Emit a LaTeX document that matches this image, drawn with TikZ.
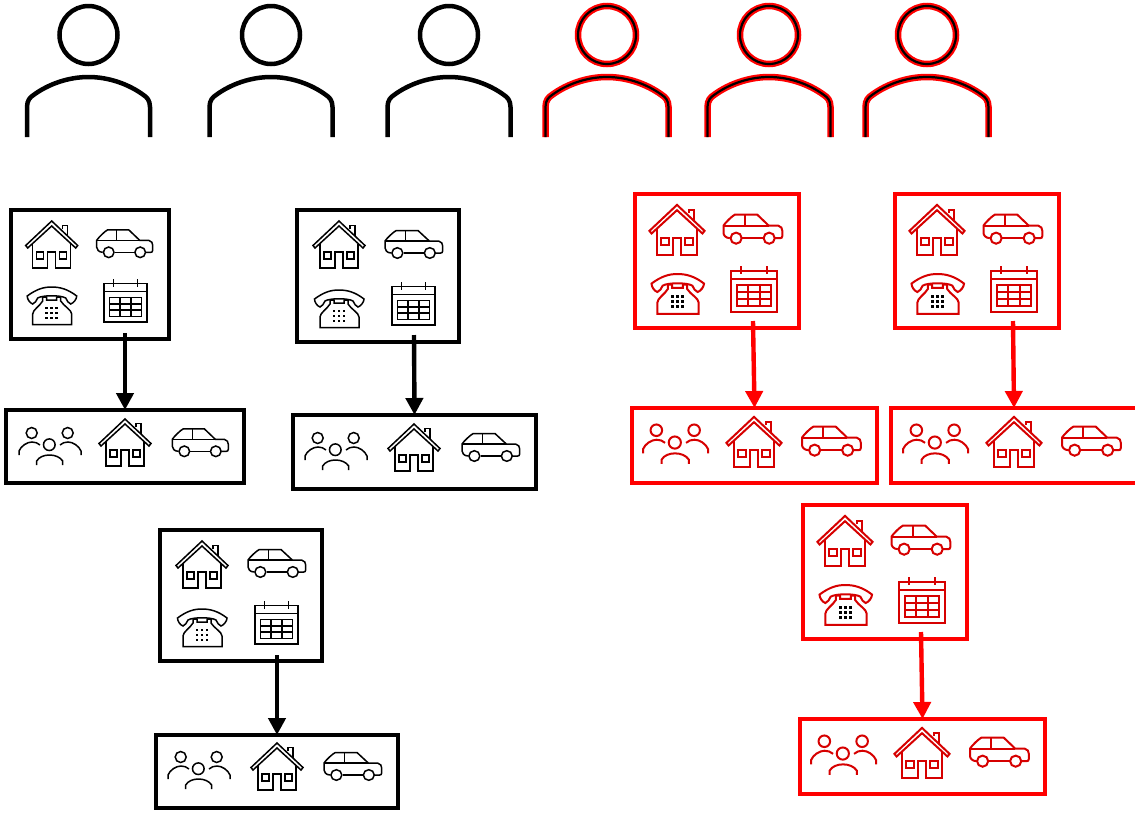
\documentclass[tikz,border=0pt]{standalone}
\usetikzlibrary{arrows.meta}
\definecolor{iconred}{RGB}{214,0,0}
\tikzset{
  iconk/.style={draw=black,line width=1.5pt,line join=miter},
  iconr/.style={draw=iconred,line width=2pt,line join=miter},
  framek/.style={draw=black,line width=4.4pt,inner sep=0pt,outer sep=0pt,rectangle},
  framer/.style={draw=red,line width=4.4pt,inner sep=0pt,outer sep=0pt,rectangle},
  linkk/.style={draw=black,line width=4.4pt,-{Triangle[length=17pt,width=17pt]}},
  linkr/.style={draw=red,line width=4.4pt,-{Triangle[length=17pt,width=17pt]}},
  pics/house/.style={code={
    \path[pic actions] (-26,22.5) -- (0,-2) -- (26,22.5) -- (24,25) -- (0,3) -- (-24,25) -- cycle;
    \path[pic actions] (-19,21) -- (-19,45) -- (-4,45) -- (-4,29) -- (4,29) -- (4,45) -- (19,45) -- (19,21);
    \path[pic actions] (11,6) -- (11,2.5) -- (16,2.5) -- (16,12.5);
    \path[pic actions] (-15,29) rectangle (-8,36);
    \path[pic actions] (8,29) rectangle (15,36);
  }},
  pics/car/.style={code={
    \path[pic actions] (6,23) .. controls (2,23) and (0,20) .. (0,18) -- (0,11) .. controls (2,8) and (8,2) .. (11,0.5) -- (32,0.5) -- (43,11) -- (52,11) .. controls (55,11.5) and (56,14) .. (56,16) -- (56,21) .. controls (56,22.5) and (55,23) .. (54,23) -- (49,23);
    \path[pic actions] (18,23) -- (38,23);
    \path[pic actions] (0,11) -- (43,11);
    \path[pic actions] (20,0.5) -- (20,11);
    \path[pic actions] (12,23) circle[radius=5.3];
    \path[pic actions] (43.5,23) circle[radius=5.3];
  }},
  pics/phone/.style={code={
    \path[pic actions] (0.5,9) .. controls (10,2) and (17,0) .. (25,0) .. controls (33,0) and (41,2) .. (50,9) .. controls (50,12) and (47,16) .. (44,17) .. controls (42,16) and (40,14) .. (39,11) .. controls (34,8) and (16,8) .. (11,11) .. controls (10,14) and (8,16) .. (6,17) .. controls (3,16) and (0.5,12) .. (0.5,9) -- cycle;
    \path[pic actions] (6,37.5) -- (6,27) .. controls (6,23) and (13,19) .. (16,14) -- (16,10) -- (20,10) -- (20,13) -- (30,13) -- (30,10) -- (34,10) -- (34,14) .. controls (37,19) and (45,23) .. (45,27) -- (45,37.5) -- cycle;
    \foreach \cx in {20,25,30}{\foreach \cy in {21,26,31}{
      \fill[pic actions,draw=none] (\cx-1.3,\cy-1.3) rectangle (\cx+1.3,\cy+1.3);
    }}
  }},
  pics/calendar/.style={code={
    \path[pic actions] (0,4.3) rectangle (43,43);
    \path[pic actions] (0,12.7) -- (43,12.7);
    \path[pic actions] (9.3,0) -- (9.3,8);
    \path[pic actions] (33.7,0) -- (33.7,8);
    \path[pic actions] (5.3,18.3) rectangle (37.7,37.7);
    \path[pic actions] (16,18.3) -- (16,37.7);
    \path[pic actions] (27,18.3) -- (27,37.7);
    \path[pic actions] (5.3,24.8) -- (37.7,24.8);
    \path[pic actions] (5.3,31.2) -- (37.7,31.2);
  }},
  pics/people/.style={code={
    \path[pic actions] (12.7,5) circle[radius=5.5];
    \path[pic actions] (48.7,5) circle[radius=5.5];
    \path[pic actions] (30.3,16.7) circle[radius=5.8];
    \path[pic actions] (0,27) -- (0,23) .. controls (2,18) and (8,14) .. (13,14) .. controls (16,14) and (19,15) .. (21,17);
    \path[pic actions] (62,27) -- (62,23) .. controls (60,18) and (54,14) .. (49,14) .. controls (46,14) and (43,15) .. (41,17);
    \path[pic actions] (17.7,37) -- (17.7,33) .. controls (20,29) and (25,27) .. (30.5,27) .. controls (36,27) and (41,29) .. (43.7,33) -- (43.7,37);
  }},
  pics/person/.style={code={
    \path[pic actions] (0,35) circle[radius=29];
    \path[pic actions] (-61.5,137) -- (-61.5,107) .. controls (-61.5,100) and (-58,97) .. (-55,95) .. controls (-40,84) and (-20,77) .. (0,77) .. controls (20,77) and (40,84) .. (55,95) .. controls (58,97) and (61.5,100) .. (61.5,107) -- (61.5,137);
  }},
}
\begin{document}
\begin{tikzpicture}[x=1pt,y=-1pt]
\useasboundingbox (0,0) rectangle (1135,812);
% people on top
\foreach \px in {88.5,271,449}{
  \pic[draw=black,line width=4.5pt] at (\px,0) {person};
}
\foreach \px in {607,769,927}{
  \pic[draw=red,line width=6.5pt] at (\px,0) {person};
  \pic[draw=black,line width=2.2pt] at (\px,0) {person};
}
% frames
\node[framek,minimum width=158pt,minimum height=129pt] (bigA) at (90,274.5) {};
\node[framek,minimum width=238pt,minimum height=73pt] (smallA) at (125,446.5) {};
\node[framek,minimum width=162pt,minimum height=132pt] (bigB) at (378,276) {};
\node[framek,minimum width=243pt,minimum height=74pt] (smallB) at (414.5,452) {};
\node[framek,minimum width=162pt,minimum height=131pt] (bigC) at (241,595.5) {};
\node[framek,minimum width=242pt,minimum height=73pt] (smallC) at (277,771.5) {};
\node[framer,minimum width=164pt,minimum height=134pt] (bigD) at (717,261) {};
\node[framer,minimum width=245pt,minimum height=75pt] (smallD) at (754.5,445.5) {};
\node[framer,minimum width=164pt,minimum height=134pt] (bigE) at (977,261) {};
\node[framer,minimum width=246pt,minimum height=75pt] (smallE) at (1014,445.5) {};
\node[framer,minimum width=164pt,minimum height=134pt] (bigF) at (885,572) {};
\node[framer,minimum width=245pt,minimum height=75pt] (smallF) at (922.5,756.5) {};
% arrow start points
\coordinate (startA) at (125,333);
\coordinate (startB) at (414,335);
\coordinate (startC) at (277,655);
\coordinate (startD) at (753,321);
\coordinate (startE) at (1013,321);
\coordinate (startF) at (921,632);
\draw[linkk] (startA) -- (smallA.north);
\draw[linkk] (startB) -- (smallB.north);
\draw[linkk] (startC) -- (smallC.north);
\draw[linkr] (startD) -- (smallD.north);
\draw[linkr] (startE) -- (smallE.north);
\draw[linkr] (startF) -- (smallF.north);
% black icons
\pic[iconk] at (51.7,223) {house};
\pic[iconk] at (96.7,229.3) {car};
\pic[iconk] at (26.7,287) {phone};
\pic[iconk] at (104,279) {calendar};
\pic[iconk] at (19,428) {people};
\pic[iconk] at (125,421) {house};
\pic[iconk] at (172.3,428.3) {car};
\pic[iconk] at (339,223) {house};
\pic[iconk,xscale=1.03] at (385,230) {car};
\pic[iconk] at (314,290) {phone};
\pic[iconk] at (392,282) {calendar};
\pic[iconk] at (305,433) {people};
\pic[iconk] at (414,426) {house};
\pic[iconk,xscale=1.03] at (462,433) {car};
\pic[iconk] at (202,543) {house};
\pic[iconk,xscale=1.03] at (248,549) {car};
\pic[iconk] at (177,609) {phone};
\pic[iconk] at (255,601) {calendar};
\pic[iconk] at (168,752) {people};
\pic[iconk] at (277,745) {house};
\pic[iconk,xscale=1.03] at (324,752) {car};
% red icons
\foreach \dx/\dy in {0/0,260/0,168/311}{
  \begin{scope}[shift={(\dx,\dy)}]
  \pic[iconr,scale=1.06] at (677,207) {house};
  \pic[iconr,scale=1.05] at (723.5,214) {car};
  \pic[iconr,scale=1.06] at (651,274) {phone};
  \pic[iconr,scale=1.06] at (731,266) {calendar};
  \pic[iconr,scale=1.05] at (643,425) {people};
  \pic[iconr,scale=1.06] at (754,419) {house};
  \pic[iconr,scale=1.05] at (802,426) {car};
  \end{scope}
}
\end{tikzpicture}
\end{document}
